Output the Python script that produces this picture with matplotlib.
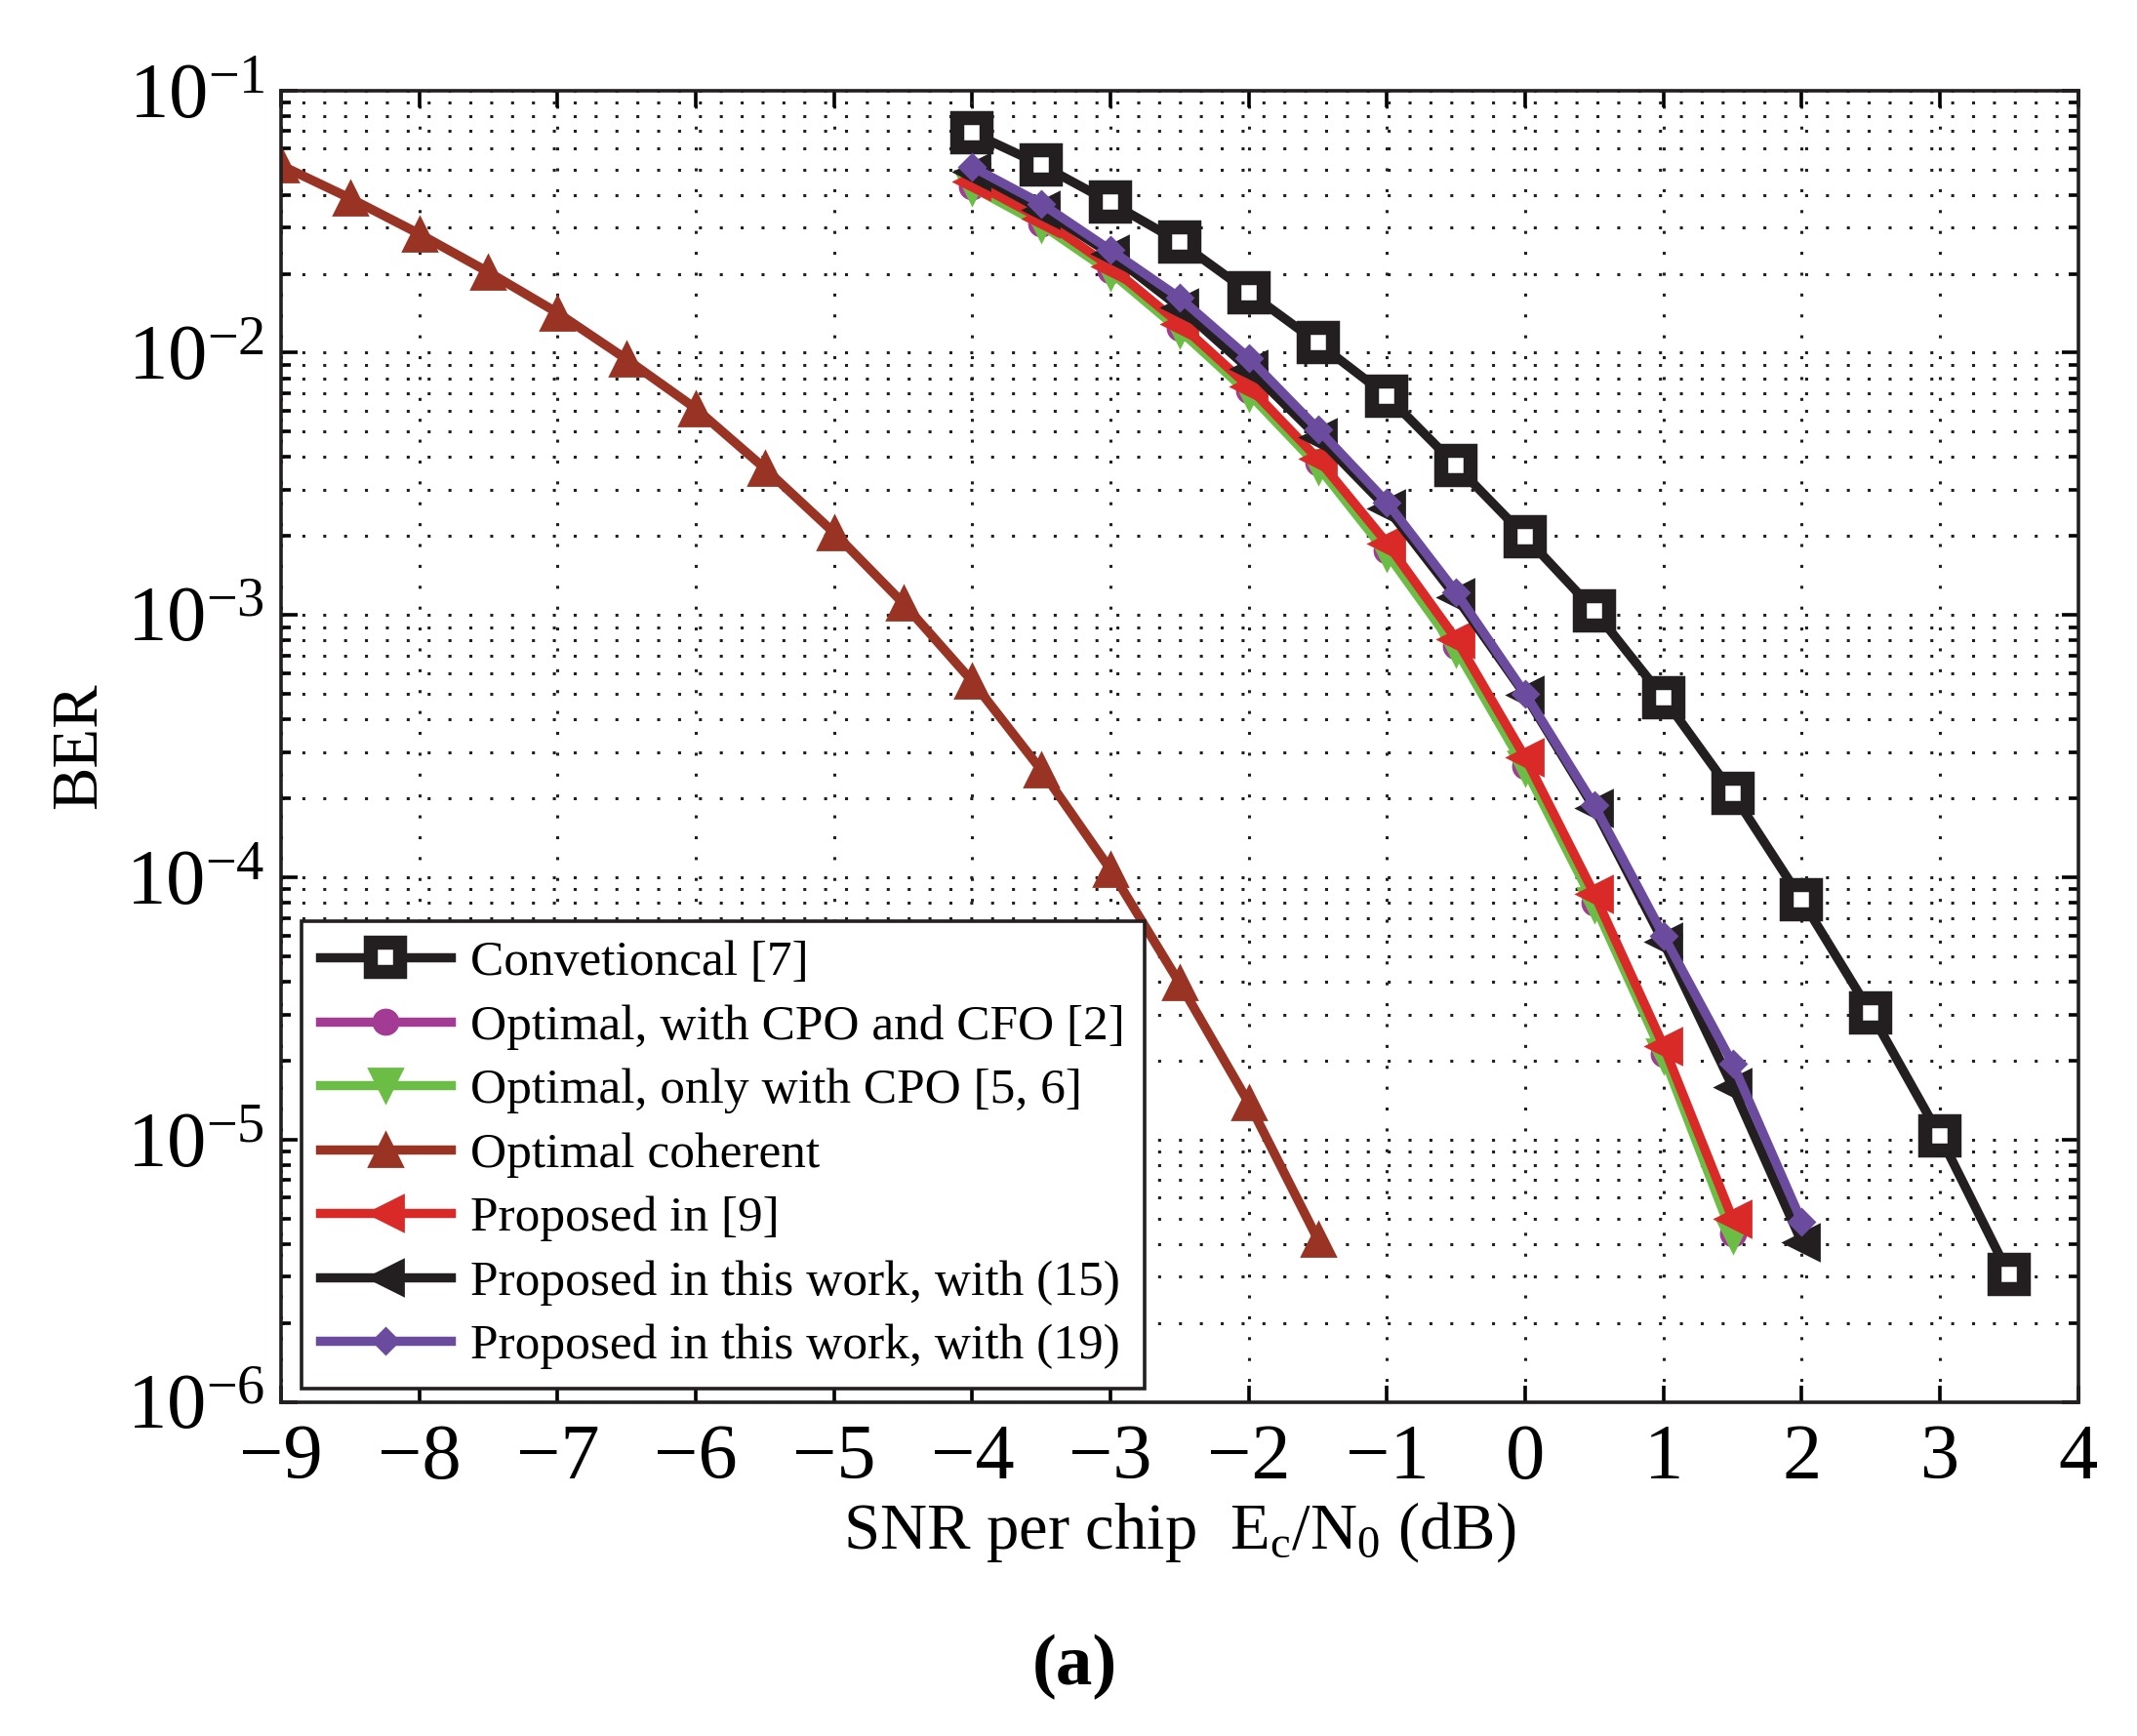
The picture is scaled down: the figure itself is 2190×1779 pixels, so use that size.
import matplotlib as mpl
mpl.use('Agg')
import matplotlib.pyplot as plt
import numpy as np
from matplotlib.ticker import LogLocator, NullFormatter, FixedLocator

# fonts (Times-like, MATLAB look)
mpl.rcParams['font.family'] = ['Liberation Serif', 'DejaVu Serif']
mpl.rcParams['mathtext.fontset'] = 'custom'
mpl.rcParams['mathtext.rm'] = 'Liberation Serif'
mpl.rcParams['mathtext.it'] = 'Liberation Serif:italic'

# data
snr_conv = [-4, -3.5, -3, -2.5, -2, -1.5, -1, -0.5, 0, 0.5, 1, 1.5, 2, 2.5, 3, 3.5]
ber_conv = [0.069, 0.052, 0.0374, 0.0264, 0.0170, 0.0109, 0.00684, 0.00371, 0.00199,
            0.00104, 4.84e-4, 2.09e-4, 8.2e-5, 3.04e-5, 1.03e-5, 3.05e-6]

snr_opt = [-4, -3.5, -3, -2.5, -2, -1.5, -1, -0.5, 0, 0.5, 1, 1.5]
ber_cpo_cfo = [0.0432, 0.0312, 0.0206, 0.0124, 0.0072, 0.0038, 0.00177, 0.00076,
               2.65e-4, 8.0e-5, 2.12e-5, 4.4e-6]
ber_cpo = [0.0428, 0.0308, 0.0203, 0.0122, 0.0070, 0.0037, 0.00172, 0.00074,
           2.6e-4, 7.9e-5, 2.08e-5, 4.3e-6]

snr_coh = [-9, -8.5, -8, -7.5, -7, -6.5, -6, -5.5, -5, -4.5, -4, -3.5, -3, -2.5, -2, -1.5]
ber_coh = [0.0518, 0.0388, 0.0284, 0.0203, 0.0142, 0.00944, 0.00613, 0.00362, 0.00206,
           0.00111, 5.59e-4, 2.56e-4, 1.07e-4, 3.95e-5, 1.38e-5, 4.16e-6]

snr_p9 = [-4, -3.5, -3, -2.5, -2, -1.5, -1, -0.5, 0, 0.5, 1, 1.5]
ber_p9 = [0.0448, 0.0324, 0.0213, 0.0129, 0.00743, 0.00394, 0.00188, 8.1e-4,
          2.86e-4, 8.63e-5, 2.28e-5, 4.98e-6]

snr_this = [-4, -3.5, -3, -2.5, -2, -1.5, -1, -0.5, 0, 0.5, 1, 1.5, 2]
ber_eq15 = [0.0488, 0.0352, 0.0238, 0.0149, 0.00869, 0.00477, 0.00256, 0.00117,
            4.95e-4, 1.83e-4, 5.66e-5, 1.59e-5, 4.06e-6]
ber_eq19 = [0.0511, 0.0370, 0.0246, 0.0162, 0.00955, 0.00512, 0.00269, 0.00122,
            5.01e-4, 1.88e-4, 6.0e-5, 1.95e-5, 4.86e-6]

labels = ['Convetioncal [7]', 'Optimal, with CPO and CFO [2]', 'Optimal, only with CPO [5, 6]',
          'Optimal coherent', 'Proposed in [9]', 'Proposed in this work, with (15)',
          'Proposed in this work, with (19)']

# figure
fig = plt.figure(figsize=(10.95, 8.895), dpi=200)
ax = fig.add_axes([0.1315, 0.1925, 0.841, 0.7554])

lw = 3.4
ax.plot(snr_conv, ber_conv, color='#231f20', lw=lw, marker='s', ms=10.5, mfc='white',
        mec='#231f20', mew=5.2, label=labels[0])
ax.plot(snr_opt, ber_cpo_cfo, color='#a33b95', lw=lw, marker='o', ms=9, label=labels[1])
ax.plot(snr_opt, ber_cpo, color='#6cbd45', lw=lw, marker='v', ms=12, label=labels[2])
ax.plot(snr_coh, ber_coh, color='#993323', lw=lw, marker='^', ms=12.5, label=labels[3])
ax.plot(snr_p9, ber_p9, color='#d92a27', lw=lw, marker='<', ms=13, label=labels[4])
ax.plot(snr_this, ber_eq15, color='#231f20', lw=lw, marker='<', ms=13, label=labels[5])
ax.plot(snr_this, ber_eq19, color='#6a4b9d', lw=lw, marker='D', ms=6.5, label=labels[6])

ax.set_yscale('log')
ax.set_xlim(-9, 4)
ax.set_ylim(1e-6, 1e-1)
ax.xaxis.set_major_locator(FixedLocator(np.arange(-9, 5, 1)))
ax.set_xticklabels(['\u2212%d' % (-v) if v < 0 else '%d' % v for v in range(-9, 5)])
ax.yaxis.set_major_locator(LogLocator(base=10, numticks=10))
ax.yaxis.set_minor_locator(LogLocator(base=10, subs=np.arange(2, 10), numticks=100))
ax.yaxis.set_minor_formatter(NullFormatter())

ax.tick_params(which='both', direction='in', top=True, right=True, width=1.3)
ax.tick_params(which='major', length=6)
ax.tick_params(which='minor', length=3.5)
ax.tick_params(axis='x', labelsize=29, pad=8)
ax.tick_params(axis='y', labelsize=29, pad=6)
for s in ax.spines.values():
    s.set_linewidth(1.3)
    s.set_color('#231f20')

dots = (0, (1, 6))
ax.grid(True, which='major', axis='both', color='#231f20', ls=dots, lw=1.1)
ax.grid(True, which='minor', axis='y', color='#231f20', ls=dots, lw=1.1)

ax.set_xlabel(r'SNR per chip  E$_{\mathrm{c}}$/N$_{0}$ (dB)', fontsize=24, labelpad=2)
ax.set_ylabel('BER', fontsize=24, labelpad=6)

leg = ax.legend(loc='lower left', bbox_to_anchor=(0.0113, 0.0104), fontsize=18.5,
                fancybox=False, framealpha=1, edgecolor='#231f20', borderaxespad=0,
                handlelength=2.6, labelspacing=0.36, borderpad=0.38, handletextpad=0.4)
leg.get_frame().set_linewidth(1.3)

fig.text(0.503, 0.04, '(a)', fontsize=27, fontweight='bold', ha='center', va='center')

fig.savefig('out.png', dpi=200)
